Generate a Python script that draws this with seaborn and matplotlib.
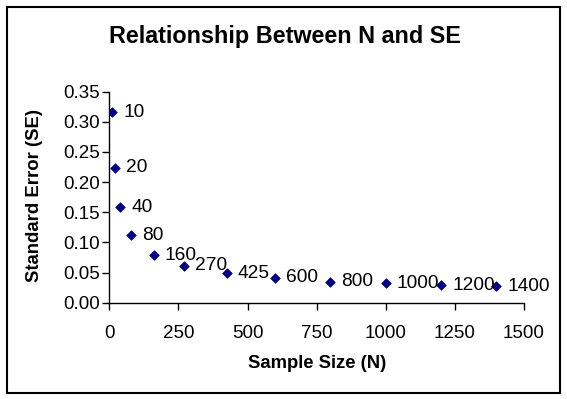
import matplotlib
matplotlib.use("Agg")
import matplotlib.pyplot as plt
from matplotlib.patches import Rectangle
import seaborn as sns
import pandas as pd

sample_size = [10, 20, 40, 80, 160, 270, 425, 600, 800, 1000, 1200, 1400]
std_error = [0.316, 0.224, 0.158, 0.112, 0.079, 0.061, 0.0485, 0.041, 0.035, 0.032, 0.029, 0.027]
point_labels = ["10", "20", "40", "80", "160", "270", "425", "600", "800", "1000", "1200", "1400"]
x_ticks = [0, 250, 500, 750, 1000, 1250, 1500]
y_ticks = [0.00, 0.05, 0.10, 0.15, 0.20, 0.25, 0.30, 0.35]

df = pd.DataFrame({"N": sample_size, "SE": std_error, "label": point_labels})

sns.set_style("ticks")
plt.rcParams["font.family"] = ["Liberation Sans", "DejaVu Sans"]
plt.rcParams["text.color"] = "black"
plt.rcParams["axes.labelcolor"] = "black"

fig = plt.figure(figsize=(5.67, 3.99), dpi=100)
ax_left, ax_right, ax_top, ax_bottom = 109.3, 524.0, 91.7, 302.7
ax = fig.add_axes([ax_left / 567, 1 - ax_bottom / 399, (ax_right - ax_left) / 567, (ax_bottom - ax_top) / 399])

sns.scatterplot(data=df, x="N", y="SE", ax=ax, marker="D", s=24,
                color="#000080", edgecolor="#000080", linewidth=0.5, zorder=3)

for xv, yv, lab in zip(df["N"], df["SE"], df["label"]):
    ax.annotate(lab, (xv, yv), xytext=(8, 0), textcoords="offset points",
                ha="left", va="center", fontsize=13.8, color="black")

ax.set_xlim(0, 1500)
ax.set_ylim(0, 0.35)
ax.set_xticks(x_ticks)
ax.set_yticks(y_ticks)
ax.set_xticklabels([str(v) for v in x_ticks], fontsize=13.5)
ax.set_yticklabels([f"{v:.2f}" for v in y_ticks], fontsize=13.5)
ax.tick_params(axis="both", direction="out", length=5, width=1, colors="black")
ax.tick_params(axis="y", pad=2)
ax.tick_params(axis="x", pad=11)
for side in ["top", "right"]:
    ax.spines[side].set_visible(False)
for side in ["left", "bottom"]:
    ax.spines[side].set_color("black")
    ax.spines[side].set_linewidth(1)

w = ax_right - ax_left
h = ax_bottom - ax_top
ax.set_xlabel("Sample Size (N)", fontsize=13.3, fontweight="bold", va="center")
ax.xaxis.set_label_coords(0.5, (ax_bottom - 363) / h)
ax.set_ylabel("Standard Error (SE)", fontsize=13.3, fontweight="bold", va="center")
ax.yaxis.set_label_coords((35 - ax_left) / w, (ax_bottom - 196) / h)

fig.text(285 / 567, 1 - 36 / 399, "Relationship Between N and SE",
         ha="center", va="center", fontsize=16.8, fontweight="bold")

fig.patches.append(Rectangle((6.5 / 567, 1 - 393 / 399), (560 - 6.5) / 567, (393 - 6.5) / 399,
                             transform=fig.transFigure, fill=False,
                             edgecolor="black", linewidth=1.5))

fig.savefig("out.png", dpi=100)
